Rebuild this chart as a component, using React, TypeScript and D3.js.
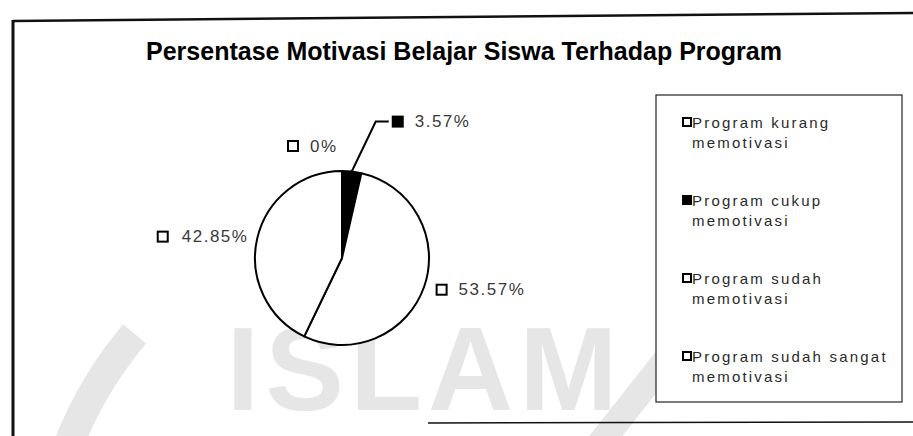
import React, { useEffect, useRef } from "react";
import * as d3 from "d3";

// chart data
const title = "Persentase Motivasi Belajar Siswa Terhadap Program";
const categories = [
  "Program kurang memotivasi",
  "Program cukup memotivasi",
  "Program sudah memotivasi",
  "Program sudah sangat memotivasi",
];
const legendLines = [
  ["Program kurang", "memotivasi"],
  ["Program cukup", "memotivasi"],
  ["Program sudah", "memotivasi"],
  ["Program sudah sangat", "memotivasi"],
];
const percentValues = [0, 3.57, 53.57, 42.85];
const percentLabels = ["0%", "3.57%", "53.57%", "42.85%"];
const sliceFills = ["#ffffff", "#000000", "#ffffff", "#ffffff"];

const W = 913;
const H = 436;
const FONT = "'Liberation Sans', Arial, sans-serif";

export default function App() {
  const ref = useRef<SVGSVGElement | null>(null);

  useEffect(() => {
    const svg = d3.select(ref.current);
    svg.selectAll("*").remove();

    svg.append("rect").attr("width", W).attr("height", H).attr("fill", "#fff");

    // faint watermark of the scanned page
    const wm = svg.append("g").attr("fill", "#e6e6e6");
    wm.append("path")
      .attr("transform", "translate(441,591)")
      .attr(
        "d",
        d3.arc()({
          innerRadius: 385,
          outerRadius: 415,
          startAngle: (-78 * Math.PI) / 180,
          endAngle: (-50 * Math.PI) / 180,
        }) as string
      );
    wm.append("line")
      .attr("x1", 598)
      .attr("y1", 446)
      .attr("x2", 672)
      .attr("y2", 352)
      .attr("stroke", "#e6e6e6")
      .attr("stroke-width", 26);
    wm.append("text")
      .attr("x", 425)
      .attr("y", 410)
      .attr("text-anchor", "middle")
      .attr("font-family", FONT)
      .attr("font-weight", "bold")
      .attr("font-size", 118)
      .attr("letter-spacing", 6)
      .text("ISLAM");

    // frame lines of the chart area
    const frame = svg.append("g").attr("stroke", "#111").attr("fill", "none");
    frame.append("line").attr("x1", 13).attr("y1", 21).attr("x2", W).attr("y2", 13).attr("stroke-width", 2.5);
    frame.append("line").attr("x1", 13).attr("y1", 20).attr("x2", 13).attr("y2", H).attr("stroke-width", 3);
    frame.append("line").attr("x1", 428).attr("y1", 423).attr("x2", W).attr("y2", 422).attr("stroke-width", 1.5);

    svg.append("text")
      .attr("x", 464)
      .attr("y", 60)
      .attr("text-anchor", "middle")
      .attr("font-family", FONT)
      .attr("font-weight", "bold")
      .attr("font-size", 25)
      .attr("fill", "#000")
      .text(title);

    // pie
    const cx = 342;
    const cy = 258;
    const r = 87;
    const pie = d3
      .pie<number>()
      .sort(null)
      .value((d) => d)
      .startAngle(0)
      .endAngle(2 * Math.PI);
    const arcs = pie(percentValues);
    const arc = d3.arc<d3.PieArcDatum<number>>().innerRadius(0).outerRadius(r);

    const g = svg.append("g").attr("transform", `translate(${cx},${cy})`);
    g.selectAll("path.slice")
      .data(arcs)
      .join("path")
      .attr("class", "slice")
      .attr("d", arc)
      .attr("fill", (_, i) => sliceFills[i])
      .attr("stroke", "#000")
      .attr("stroke-width", 2)
      .attr("stroke-linejoin", "round");

    const polar = (a: number, rad: number): [number, number] => [
      rad * Math.sin(a),
      -rad * Math.cos(a),
    ];

    // label placement: big slices sit on the arc, the two small ones are nudged like Excel does
    const labelR = r + 9;
    const nudges: [number, number, string][] = [
      [-58, -16, "start"],
      [36, -41, "start"],
      [0, 0, "start"],
      [0, 0, "end"],
    ];

    arcs.forEach((d, i) => {
      const mid = (d.startAngle + d.endAngle) / 2;
      const [px, py] = polar(mid, labelR);
      const [nx, ny, side] = nudges[i];
      const x = px + nx;
      const y = py + ny;
      const lg = g.append("g");

      const txt = lg
        .append("text")
        .attr("font-family", FONT)
        .attr("font-size", 17)
        .attr("letter-spacing", 1.5)
        .attr("fill", "#3a3a3a")
        .attr("dominant-baseline", "central")
        .text(percentLabels[i]);

      const box = 10;
      if (side === "start") {
        lg.append("rect")
          .attr("x", x + 4)
          .attr("y", y - box / 2)
          .attr("width", box)
          .attr("height", box)
          .attr("fill", sliceFills[i])
          .attr("stroke", "#000")
          .attr("stroke-width", 2);
        txt.attr("x", x + 4 + box + 12).attr("y", y);
      } else {
        const tw = (txt.node() as SVGTextElement).getComputedTextLength();
        txt.attr("x", x).attr("y", y).attr("text-anchor", "end");
        lg.append("rect")
          .attr("x", x - tw - 24)
          .attr("y", y - box / 2)
          .attr("width", box)
          .attr("height", box)
          .attr("fill", sliceFills[i])
          .attr("stroke", "#000")
          .attr("stroke-width", 2);
      }

      if (i === 1) {
        // leader line from the thin black slice
        const [ex, ey] = polar(mid, r);
        g.append("polyline")
          .attr("points", `${ex},${ey} ${x - 13},${y} ${x},${y}`)
          .attr("fill", "none")
          .attr("stroke", "#000")
          .attr("stroke-width", 2);
      }
    });

    // legend
    const lx = 656;
    const ly = 95;
    svg.append("rect")
      .attr("x", lx)
      .attr("y", ly)
      .attr("width", 246)
      .attr("height", 307)
      .attr("fill", "#fff")
      .attr("stroke", "#222")
      .attr("stroke-width", 1.2);

    const itemY = d3.scalePoint<string>().domain(categories).range([122, 356]);
    categories.forEach((c, i) => {
      const y0 = itemY(c) as number;
      svg.append("rect")
        .attr("x", 683)
        .attr("y", y0 - 4)
        .attr("width", 8)
        .attr("height", 8)
        .attr("fill", sliceFills[i])
        .attr("stroke", "#000")
        .attr("stroke-width", 2);
      legendLines[i].forEach((line, j) => {
        svg.append("text")
          .attr("x", 692)
          .attr("y", y0 + j * 20)
          .attr("dominant-baseline", "central")
          .attr("font-family", FONT)
          .attr("font-size", 15)
          .attr("letter-spacing", 2.2)
          .attr("fill", "#2a2a2a")
          .text(line);
      });
    });
  }, []);

  return (
    <svg
      ref={ref}
      width={W}
      height={H}
      style={{ position: "absolute", left: 0, top: 0, display: "block" }}
    />
  );
}
